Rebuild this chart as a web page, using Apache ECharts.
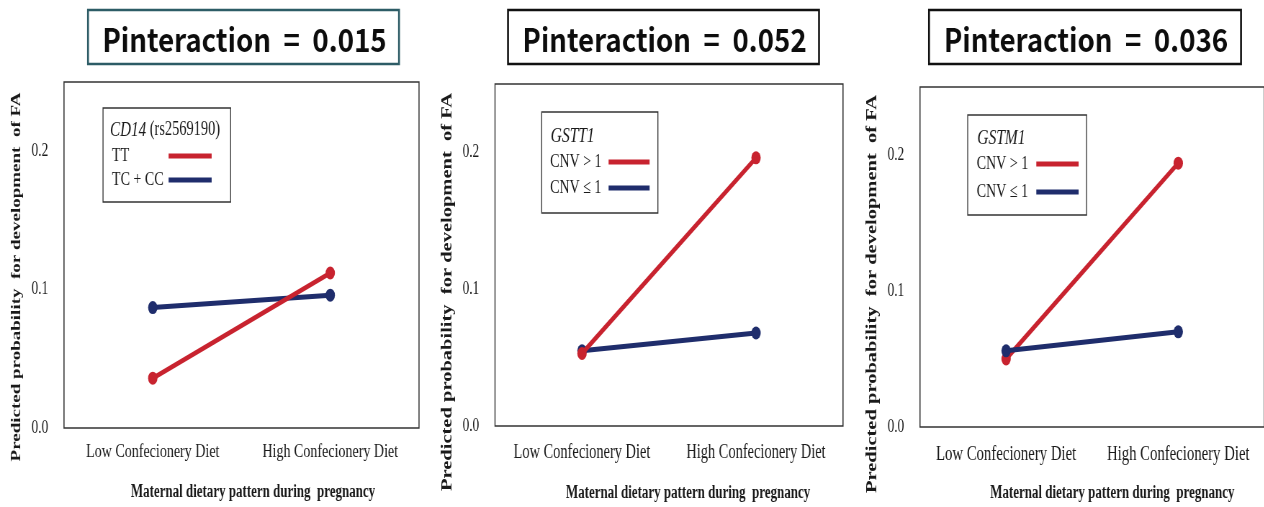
<!DOCTYPE html>
<html>
<head>
<meta charset="utf-8">
<script src="https://cdn.jsdelivr.net/npm/echarts@6/dist/echarts.min.js"></script>
<style>
  html, body { margin: 0; padding: 0; overflow: hidden; background: #fff; }
  /* The plots are drawn on a wider canvas and compressed horizontally */
  #chart { width: 1755.6px; height: 507px; transform: scaleX(0.72); transform-origin: 0 0; }
</style>
</head>
<body>
<div id="chart"></div>
<script>
// ---- data ----
const categories = ['Low Confecionery Diet', 'High Confecionery Diet'];

const cd14TT   = [0.036, 0.112];
const cd14TCCC = [0.087, 0.096];

const gstt1Above = [0.053, 0.196];
const gstt1Below = [0.055, 0.068];

const gstm1Above = [0.050, 0.194];
const gstm1Below = [0.056, 0.070];

const yTicks = [0.0, 0.1, 0.2];

const pValues = ['0.015', '0.052', '0.036'];
const legendTitles = [['CD14', ' (rs2569190)'], ['GSTT1', ''], ['GSTM1', '']];
const legendNames = [['TT', 'TC + CC'], ['CNV > 1', 'CNV \u2264 1'], ['CNV > 1', 'CNV \u2264 1']];

const xAxisTitle = 'Maternal dietary pattern during  pregnancy';
const yAxisTitle = 'Predicted probability  for development  of FA';

// ---- layout helpers ----
const SX = 0.72;              // horizontal compression of the canvas
const X = v => v / SX;        // screen x -> canvas x

const RED = '#c8232f';
const NAVY = '#1f2d6c';
const INK = '#1a1a1a';
const SERIF = '"Liberation Serif", "Times New Roman", serif';

const panels = [
  { grid: [64, 82, 355, 346], labelSize: 19.5, labelMargin: 14, nameGap: 55, namePad: 32,
    yNameSize: 19, yNameGap: 56, yNamePad: 44,
    legend: { box: [103, 108], padL: 9, padR: 19, textW: 53, iconW: 43, pad: [38, 12], gap: 4 },
    head: [110, 130, 21], titleBox: [88, 399], titleColor: '#2d5c66' },
  { grid: [495, 84, 348, 344], labelSize: 20, labelMargin: 17, nameGap: 58, namePad: 53,
    yNameSize: 20.5, yNameGap: 55, yNamePad: 74,
    legend: { box: [541.7, 112], padL: 8.3, padR: 8.3, textW: 55, iconW: 41, pad: [40, 15], gap: 6 },
    head: [550.7, 136, 21.5], titleBox: [508, 819], titleColor: '#111' },
  { grid: [920, 87, 356, 344], labelSize: 20.5, labelMargin: 17, nameGap: 57, namePad: 56,
    yNameSize: 20.5, yNameGap: 55.5, yNamePad: 74,
    legend: { box: [967.7, 115], padL: 9, padR: 8, textW: 56, iconW: 42.3, pad: [39, 13], gap: 8 },
    head: [977.3, 138, 21.5], titleBox: [929, 1241], titleColor: '#111' }
];

const grids = panels.map(p => ({
  left: X(p.grid[0]), top: p.grid[1], width: X(p.grid[2]), height: p.grid[3],
  show: true, borderColor: '#333', borderWidth: 1.5, backgroundColor: 'transparent'
}));

const xAxes = panels.map((p, i) => ({
  type: 'category', gridIndex: i, data: categories, boundaryGap: true,
  axisLine: { show: false }, axisTick: { show: false },
  axisLabel: { interval: 0, margin: p.labelMargin, color: INK, fontFamily: SERIF, fontSize: p.labelSize },
  name: xAxisTitle, nameLocation: 'middle', nameGap: p.nameGap,
  nameTextStyle: { color: INK, fontFamily: SERIF, fontWeight: 'bold', fontSize: 18, padding: [0, 0, 0, p.namePad] }
}));

const yAxes = panels.map((p, i) => ({
  type: 'value', gridIndex: i, min: 0, max: 0.25, interval: 0.1,
  axisLine: { show: false }, axisTick: { show: false }, splitLine: { show: false },
  axisLabel: {
    margin: 22, color: INK, fontFamily: SERIF, fontSize: 18.5,
    formatter: v => yTicks.some(t => Math.abs(t - v) < 1e-9) ? v.toFixed(1) : ''
  },
  name: yAxisTitle, nameLocation: 'middle', nameRotate: 90, nameGap: p.yNameGap,
  nameTextStyle: { color: INK, fontFamily: SERIF, fontWeight: 'bold', fontSize: p.yNameSize, padding: [0, p.yNamePad, 0, 0] }
}));

function lineSeries(name, data, color, idx, z) {
  return {
    name, type: 'line', data, xAxisIndex: idx, yAxisIndex: idx, z,
    symbol: 'circle', symbolSize: 13, showSymbol: true,
    lineStyle: { color, width: 5 }, itemStyle: { color },
    emphasis: { disabled: true }, animation: false
  };
}

const series = [
  lineSeries(legendNames[0][1], cd14TCCC, NAVY, 0, 2),
  lineSeries(legendNames[0][0], cd14TT, RED, 0, 3),
  lineSeries(legendNames[1][1], gstt1Below, NAVY, 1, 2),
  lineSeries(legendNames[1][0], gstt1Above, RED, 1, 3),
  lineSeries(legendNames[2][0], gstm1Above, RED, 2, 2),
  lineSeries(legendNames[2][1], gstm1Below, NAVY, 2, 3)
];

const legends = panels.map((p, i) => {
  const L = p.legend;
  return {
    orient: 'vertical', align: 'right', selectedMode: false, icon: 'rect',
    left: X(L.box[0]), top: L.box[1],
    itemWidth: X(L.iconW), itemHeight: 5, itemGap: L.gap,
    padding: [L.pad[0], X(L.padR), L.pad[1], X(L.padL)],
    borderColor: '#333', borderWidth: 1.3, backgroundColor: '#fff',
    data: legendNames[i],
    formatter: '{t|{name}}',
    textStyle: { rich: { t: { width: X(L.textW), align: 'left', color: INK, fontFamily: SERIF, fontSize: 19.5, lineHeight: 20 } } }
  };
});

const graphics = [];
panels.forEach((p, i) => {
  // boxed interaction p-value above each plot
  const [x0, x1] = p.titleBox;
  graphics.push({
    type: 'rect', shape: { x: X(x0), y: 10, width: X(x1 - x0), height: 54 },
    style: { fill: '#fff', stroke: p.titleColor, lineWidth: 2.6 }, z: 10
  });
  graphics.push({
    type: 'text', x: X((x0 + x1) / 2 + 1), y: 40, scaleX: 1.2, z: 11,
    style: {
      text: 'Pinteraction  =  ' + pValues[i], align: 'center', verticalAlign: 'middle',
      fontFamily: '"Noto Sans CJK KR", "Noto Sans", sans-serif', fontWeight: 'bold', fontSize: 32, fill: '#0d0d0d'
    }
  });
  // legend heading
  const [hx, hy, hs] = p.head;
  graphics.push({
    type: 'text', x: X(hx), y: hy, z: 20,
    style: {
      text: '{i|' + legendTitles[i][0] + '}' + (legendTitles[i][1] ? '{n|' + legendTitles[i][1] + '}' : ''),
      verticalAlign: 'middle', align: 'left',
      rich: {
        i: { fontFamily: SERIF, fontStyle: 'italic', fontSize: hs, fill: INK },
        n: { fontFamily: SERIF, fontSize: hs - 1, fill: INK }
      }
    }
  });
});

const chart = echarts.init(document.getElementById('chart'), null, { renderer: 'canvas' });
chart.setOption({
  animation: false,
  backgroundColor: '#fff',
  grid: grids,
  xAxis: xAxes,
  yAxis: yAxes,
  legend: legends,
  series,
  graphic: graphics
});
</script>
</body>
</html>
